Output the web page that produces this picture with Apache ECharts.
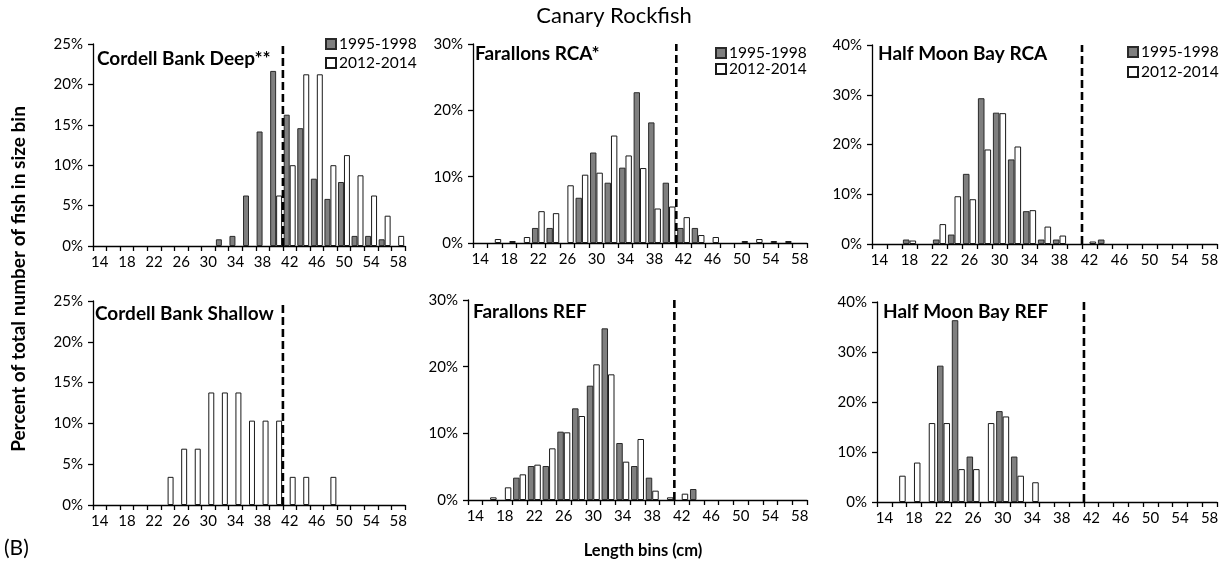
<!DOCTYPE html>
<html>
<head>
<meta charset="utf-8">
<style>
  html, body { margin: 0; padding: 0; background: #fff; }
  #chart { width: 1228px; height: 571px; }
</style>
<script src="https://cdn.jsdelivr.net/npm/echarts@6/dist/echarts.min.js"></script>
</head>
<body>
<div id="chart"></div>
<script>
// ---------------- DATA ----------------
const categories = ['14','16','18','20','22','24','26','28','30','32','34','36','38','40','42','44','46','48','50','52','54','56','58'];
const seriesNames = ['1995-1998', '2012-2014'];
const mainTitle = 'Canary Rockfish';
const panelTitles = ['Cordell Bank Deep**', 'Farallons RCA*', 'Half Moon Bay RCA',
                     'Cordell Bank Shallow', 'Farallons REF', 'Half Moon Bay REF'];
const xAxisTitle = 'Length bins (cm)';
const yAxisTitle = 'Percent of total number of fish in size bin';
const figureTag = '(B)';
const sizeLimit = 41;            // cm, dashed reference line
const yMaxes = [25, 30, 40, 25, 30, 40];
const yIntervals = [5, 10, 10, 5, 10, 10];

const _ = null;
const cordellDeepEarly = [_,_,_,_,_,_,_,_,_,0.83,1.25,6.25,14.17,21.67,16.25,14.58,8.33,5.83,7.92,1.25,1.25,0.83,_];
const cordellDeepLate  = [_,_,_,_,_,_,_,_,_,_,_,_,_,6.25,10,21.25,21.25,10,11.25,8.75,6.25,3.75,1.25];
const farallonsRcaEarly = [_,_,_,_,2.27,2.27,_,6.82,13.64,9.09,11.36,22.73,18.18,9.09,2.27,2.27,_,_,_,_,_,_,_];
const farallonsRcaLate  = [_,0.6,0.3,0.9,4.8,4.5,8.7,10.3,10.6,16.2,13.2,11.3,5.2,5.5,3.9,1.2,0.9,_,0.3,0.6,0.3,0.3,_];
const hmbRcaEarly = [_,_,0.9,_,0.9,1.9,14.1,29.3,26.4,17.0,6.6,0.9,0.9,_,_,0.9,_,_,_,_,_,_,_];
const hmbRcaLate  = [_,_,0.7,_,4.0,9.6,9.0,19.0,26.3,19.6,6.8,3.5,1.7,_,0.5,_,_,_,_,_,_,_,_];
const cordellShallowEarly = [_,_,_,_,_,_,_,_,_,_,_,_,_,_,_,_,_,_,_,_,_,_,_];
const cordellShallowLate  = [_,_,_,_,_,3.45,6.9,6.9,13.79,13.79,13.79,10.34,10.34,10.34,3.45,3.45,_,3.45,_,_,_,_,_];
const farallonsRefEarly = [_,_,_,3.35,5.1,5.1,10.25,13.75,17.15,25.75,8.55,5.1,3.35,_,_,1.65,_,_,_,_,_,_,_];
const farallonsRefLate  = [_,0.4,1.9,3.85,5.3,7.75,10.15,12.6,20.35,18.85,5.75,9.15,1.4,0.4,0.95,_,_,_,_,_,_,_,_];
const hmbRefEarly = [_,_,_,_,27.27,36.36,9.09,_,18.18,9.09,_,_,_,_,_,_,_,_,_,_,_,_,_];
const hmbRefLate  = [_,5.26,7.89,15.79,15.79,6.58,6.58,15.79,17.11,5.26,3.95,_,_,_,_,_,_,_,_,_,_,_,_];

const earlyData = [cordellDeepEarly, farallonsRcaEarly, hmbRcaEarly, cordellShallowEarly, farallonsRefEarly, hmbRefEarly];
const lateData  = [cordellDeepLate, farallonsRcaLate, hmbRcaLate, cordellShallowLate, farallonsRefLate, hmbRefLate];

// ---------------- LAYOUT / STYLE ----------------
const FONT = 'Lato, "Open Sans", sans-serif';
const gridBoxes = [
  {left: 93,  top: 44,  width: 312, height: 202},
  {left: 473, top: 44,  width: 334, height: 199},
  {left: 872, top: 45,  width: 345, height: 199},
  {left: 93,  top: 301, width: 312, height: 204},
  {left: 468, top: 300, width: 339, height: 200},
  {left: 877, top: 302, width: 340, height: 200}
];
const titlePos = [
  {left: 97,  top: 49},
  {left: 475, top: 44},
  {left: 878, top: 44},
  {left: 95,  top: 304},
  {left: 473, top: 302},
  {left: 883, top: 302}
];
const legendPos = [
  {left: 325, top: 36, itemGap: 3},
  {left: 715, top: 45, itemGap: 0},
  {left: 1127, top: 44, itemGap: 4}
];

const grid = [], xAxis = [], yAxis = [], series = [], title = [], legend = [];

title.push({text: mainTitle, left: 'center', top: 5, padding: 0,
  textStyle: {fontFamily: FONT, fontSize: 22, fontWeight: 'normal', color: '#000'}});
title.push({text: xAxisTitle, left: 643, top: 542, padding: 0, textAlign: 'center',
  textStyle: {fontFamily: FONT, fontSize: 16.5, fontWeight: 'bold', color: '#000'}});
title.push({text: figureTag, left: 4, top: 538, padding: 0,
  textStyle: {fontFamily: FONT, fontSize: 21, fontWeight: 'normal', color: '#000'}});

for (let i = 0; i < 6; i++) {
  grid.push(Object.assign({containLabel: false}, gridBoxes[i]));
  // category axis for the bars
  xAxis.push({
    type: 'category', gridIndex: i, data: categories, boundaryGap: true,
    axisLine: {lineStyle: {color: '#000', width: 1.3}},
    axisTick: {show: true, interval: 0, length: 5, lineStyle: {color: '#000', width: 1.3}},
    axisLabel: {interval: 1, fontFamily: FONT, fontSize: 15, color: '#000', margin: 9},
    splitLine: {show: false}
  });
  // hidden numeric length axis spanning the same bins (13..59 cm) for the reference line
  xAxis.push({
    type: 'value', gridIndex: i, min: 13, max: 59, show: false,
    splitLine: {show: false}
  });
  yAxis.push({
    type: 'value', gridIndex: i, min: 0, max: yMaxes[i], interval: yIntervals[i],
    axisLine: {show: true, lineStyle: {color: '#000', width: 1.3}},
    axisTick: {show: true, length: 5, lineStyle: {color: '#000', width: 1.3}},
    axisLabel: {formatter: '{value}%', fontFamily: FONT, fontSize: 15, color: '#000', margin: 10},
    splitLine: {show: false}
  });
  series.push({
    name: seriesNames[0], type: 'bar', xAxisIndex: 2 * i, yAxisIndex: i,
    data: earlyData[i], barGap: '0%', barCategoryGap: '12%',
    itemStyle: {color: '#7f7f7f', borderColor: '#2a2a2a', borderWidth: 1},
    silent: true
  });
  series.push({
    name: seriesNames[1], type: 'bar', xAxisIndex: 2 * i, yAxisIndex: i,
    data: lateData[i], barGap: '0%', barCategoryGap: '12%',
    itemStyle: {color: '#ffffff', borderColor: '#1a1a1a', borderWidth: 1},
    silent: true
  });
  series.push({
    name: 'limit' + i, type: 'line', xAxisIndex: 2 * i + 1, yAxisIndex: i,
    data: [[sizeLimit, 0], [sizeLimit, yMaxes[i]]],
    symbol: 'none', silent: true, z: 5, clip: false,
    lineStyle: {color: '#000', width: 2.6, type: [8, 4]}
  });
  title.push({
    text: panelTitles[i], left: titlePos[i].left, top: titlePos[i].top, padding: 0,
    textStyle: {fontFamily: FONT, fontSize: 19, fontWeight: 'bold', color: '#000'}
  });
}

for (let j = 0; j < 3; j++) {
  legend.push({
    data: seriesNames, orient: 'vertical', left: legendPos[j].left, top: legendPos[j].top,
    itemWidth: 10, itemHeight: 10, itemGap: legendPos[j].itemGap, padding: 0,
    icon: 'rect', selectedMode: false,
    textStyle: {fontFamily: FONT, fontSize: 15.5, color: '#000', padding: [0, 0, 0, -2]}
  });
}

const chart = echarts.init(document.getElementById('chart'), null, {renderer: 'canvas'});
chart.setOption({
  animation: false,
  backgroundColor: '#ffffff',
  title: title,
  legend: legend,
  grid: grid,
  xAxis: xAxis,
  yAxis: yAxis,
  series: series,
  graphic: [{
    type: 'text', x: 19, y: 279, rotation: Math.PI / 2, silent: true,
    style: {text: yAxisTitle, font: 'bold 19px ' + FONT, fill: '#000',
            align: 'center', verticalAlign: 'middle',
            textAlign: 'center', textVerticalAlign: 'middle'}
  }]
});
</script>
</body>
</html>
